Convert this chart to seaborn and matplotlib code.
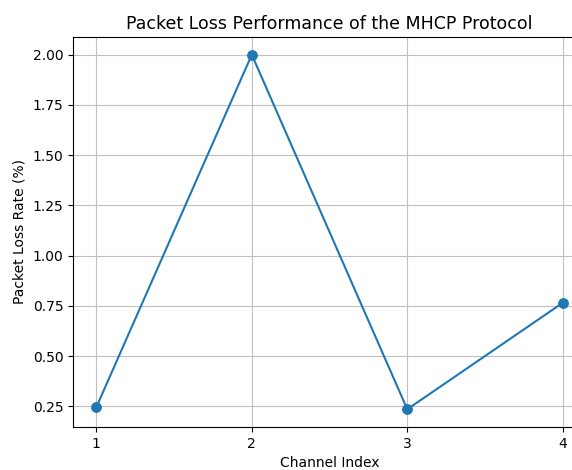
import matplotlib
matplotlib.use("Agg")
import matplotlib.pyplot as plt
import seaborn as sns
import pandas as pd

channels = [1, 2, 3, 4]
loss = [0.245, 2.0, 0.235, 0.765]

df = pd.DataFrame({"Channel Index": channels, "Packet Loss Rate (%)": loss})

fig = plt.figure(figsize=(5.72, 4.70), dpi=100)
ax = fig.add_axes([0.1276, 0.0915, 0.897, 0.8298])
sns.lineplot(data=df, x="Channel Index", y="Packet Loss Rate (%)", marker="o",
             color="#1f77b4", markeredgecolor="#1f77b4", markersize=7, linewidth=1.5, ax=ax)
ax.set_xticks(channels)
ax.set_title("Packet Loss Performance of the MHCP Protocol", fontsize=12.5)
ax.set_xlabel("Channel Index")
ax.set_ylabel("Packet Loss Rate (%)")
ax.grid(True, color="#c0c0c0", linewidth=0.8)
fig.savefig("out.png", dpi=100)
